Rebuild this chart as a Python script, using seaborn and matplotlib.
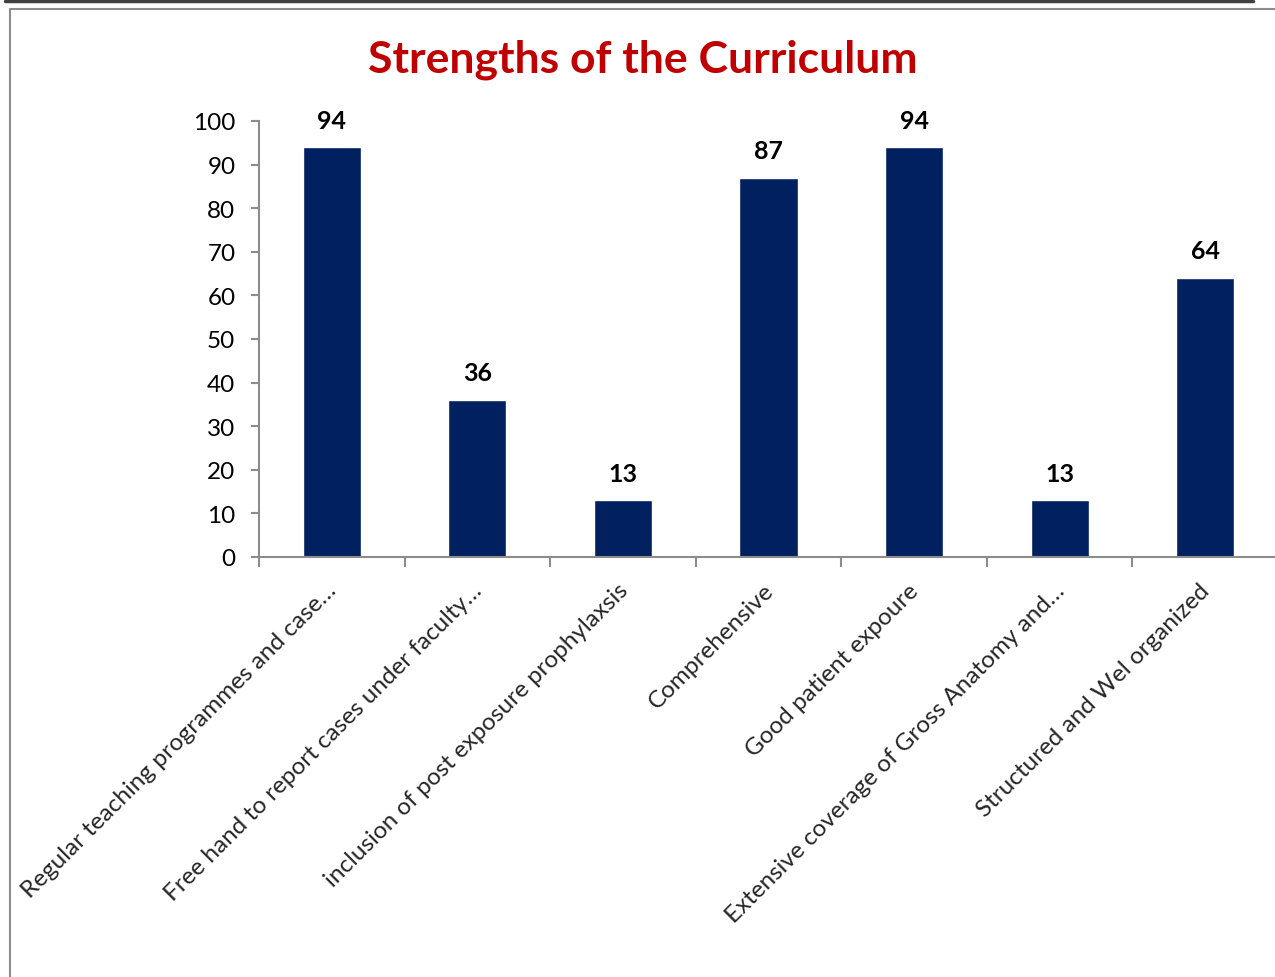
import matplotlib
matplotlib.use("Agg")
import matplotlib.pyplot as plt
import matplotlib.transforms as mtransforms
import seaborn as sns
import pandas as pd
from matplotlib.lines import Line2D

categories = [
    "Regular teaching programmes and case…",
    "Free hand to report cases under faculty…",
    "inclusion of post exposure prophylaxsis",
    "Comprehensive",
    "Good patient expoure",
    "Extensive coverage of Gross Anatomy and…",
    "Structured and Wel organized",
]
values = [94, 36, 13, 87, 94, 13, 64]
yticks = list(range(0, 101, 10))

sns.set_theme(style="white")
plt.rcParams['font.family'] = ['Lato', 'DejaVu Sans']

fig = plt.figure(figsize=(12.75, 9.78), dpi=100)
ax = fig.add_axes([259/1275, 1-558/978, (1278-259)/1275, (558-122)/978])

df = pd.DataFrame({"cat": categories, "val": values})
sns.barplot(data=df, x="cat", y="val", color="#002060", width=0.4,
            saturation=1, ax=ax)

ax.set_xlim(-0.5, 6.5)
ax.set_ylim(0, 100)
ax.set_yticks(yticks)
ax.set_yticklabels([str(t) for t in yticks], fontsize=17.5, color="black")
ax.set_xlabel("")
ax.set_ylabel("")

for s in ["top", "right"]:
    ax.spines[s].set_visible(False)
for s in ["left", "bottom"]:
    ax.spines[s].set_color("#8c8c8c")
    ax.spines[s].set_linewidth(1.5)

ax.tick_params(axis="y", which="major", length=6, width=1.5, color="#8c8c8c",
               direction="out", left=True, pad=11)
ax.set_xticks(range(len(categories)))
ax.set_xticklabels(categories, rotation=45, ha="right", va="top",
                   rotation_mode="anchor", fontsize=17.5)
ax.tick_params(axis="x", which="major", length=0, pad=16)
shift = mtransforms.ScaledTranslation(-6/100, 0, fig.dpi_scale_trans)
for lbl in ax.get_xticklabels():
    lbl.set_transform(lbl.get_transform() + shift)
ax.set_xticks([i - 0.5 for i in range(len(categories) + 1)], minor=True)
ax.tick_params(axis="x", which="minor", length=7, width=1.5, color="#8c8c8c",
               direction="out", bottom=True)

for i, v in enumerate(values):
    ax.annotate(str(v), (i, v), xytext=(0, 19.5), textcoords="offset points",
                ha="center", va="center", fontsize=18, fontweight="bold",
                color="black")

fig.text(643/1275, 1-60/978, "Strengths of the Curriculum", ha="center",
         va="center", fontsize=32, fontweight="bold", color="#C00000")

# decorative frame lines
fig.add_artist(Line2D([5/1275, 1253/1275], [1-2/978, 1-2/978],
                      color="#404040", linewidth=2.5, transform=fig.transFigure))
fig.add_artist(Line2D([10/1275, 10/1275, 1.0], [0, 1-10/978, 1-10/978],
                      color="#8c8c8c", linewidth=1.5, transform=fig.transFigure))

fig.savefig("out.png", dpi=100)
